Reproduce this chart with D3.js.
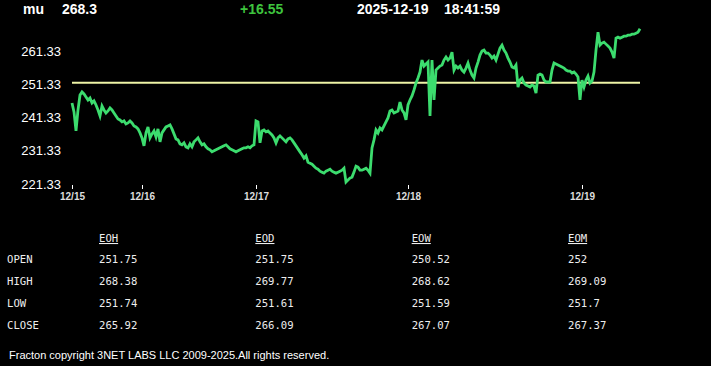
<!DOCTYPE html>
<html>
<head>
<meta charset="utf-8">
<script src="https://cdn.jsdelivr.net/npm/d3@7"></script>
<style>
body { margin:0; background:#000; }
svg { display:block; }
</style>
</head>
<body>
<div id="chart"></div>
<script>
// header
var symbol = "mu", lastPrice = "268.3", change = "+16.55", stamp = "2025-12-19", clock = "18:41:59";
var prevClose = 251.75;

// intraday prices, one array per session
var day1 = [245.7,243.0,237.3,243.6,248.1,249.0,248.4,247.5,246.6,247.2,245.7,246.3,245.1,243.6,241.8,244.8,243.6,242.7,243.3,244.2,
  243.6,242.7,241.8,240.9,240.6,240.0,240.3,239.4,239.7,240.3,239.7,238.8,238.5,237.9,236.7];
var day2 = [235.2,232.8,236.7,238.5,235.2,236.4,237.3,235.5,237.9,234.0,236.7,237.6,238.5,238.8,239.1,237.9,236.4,234.9,234.6,233.4,
  233.1,233.7,232.5,232.2,233.4,232.5,234.0,234.6,235.2,234.0,233.1,233.4,232.5,231.9,231.6,231.0,231.3,231.6,231.9,232.2,
  232.5,232.8,233.1,232.5,231.9,231.6,231.3,231.0,231.3,231.6,231.9,232.2,232.2,232.5,232.2,232.8,233.1];
var day3 = [240.3,240.0,233.7,237.3,237.6,237.0,237.3,236.7,236.1,235.2,233.7,235.2,235.8,235.2,234.6,234.0,234.9,235.2,234.6,233.7,
  232.8,231.9,231.0,230.1,229.1,229.8,227.9,227.6,227.3,226.7,226.1,225.8,225.2,224.9,224.6,225.2,225.5,225.8,225.2,224.9,
  224.6,224.9,225.2,225.5,226.1,221.9,222.5,223.1,223.4,224.9,226.7,226.4,225.5,225.5,225.8,226.1,225.5,224.6,232.2,234.6,
  237.6,236.7,238.2,237.6,238.8,240.0,241.2,243.3,243.6,242.7,243.0,243.3,246.0,243.6,242.7,240.6];
var day4 = [245.1,246.6,247.8,249.6,251.7,253.2,255.0,258.6,256.8,257.4,258.0,241.8,258.6,246.6,255.6,256.2,256.8,257.1,258.6,259.5,
  258.6,259.2,261.0,255.6,256.8,256.2,256.8,255.6,255.0,256.2,257.7,255.6,254.1,253.2,256.2,258.0,260.1,261.3,261.6,260.7,
  260.7,260.1,259.2,259.8,258.6,260.4,262.2,263.1,261.6,260.7,259.2,258.0,256.5,256.2,257.1,250.5,252.6,253.2,251.7,251.1,
  250.8,250.5,251.1,250.8,248.7,254.1,254.4,254.1,252.6,252.0,252.0,252.0,255.6,257.7,257.4,257.1,256.8,256.5,256.2,255.6,
  255.3,255.3,254.7,255.0,254.4,253.5,246.6];
var day5 = [252.6,250.5,252.6,253.8,251.7,252.3,255.0,261.6,267.0,263.1,263.7,264.0,263.4,262.8,262.2,261.0,259.2,265.2,265.5,265.2,
  265.5,265.8,265.8,266.1,266.1,266.4,266.4,266.7,267.0,268.0];
var dayLabels = ["12/15","12/16","12/17","12/18","12/19"];
var yTicks = [221.33, 231.33, 241.33, 251.33, 261.33];

// summary table
var rowLabels = ["OPEN","HIGH","LOW","CLOSE"];
var periods = ["EOH","EOD","EOW","EOM"];
var eoh = ["251.75","268.38","251.74","265.92"];
var eod = ["251.75","269.77","251.61","266.09"];
var eow = ["250.52","268.62","251.59","267.07"];
var eom = ["252","269.09","251.7","267.37"];
var footer = "Fracton copyright 3NET LABS LLC 2009-2025.All rights reserved.";

var W = 711, H = 366;
var svg = d3.select("#chart").append("svg").attr("width", W).attr("height", H)
  .style("background", "#000");

// header line
var hdr = svg.append("g").style("font", "bold 14px 'Liberation Sans', Arial, sans-serif");
hdr.append("text").attr("x", 23).attr("y", 14).attr("fill", "#fff").text(symbol);
hdr.append("text").attr("x", 62).attr("y", 14).attr("fill", "#fff").text(lastPrice);
hdr.append("text").attr("x", 240).attr("y", 14).attr("fill", "#3ec43e").text(change);
hdr.append("text").attr("x", 357).attr("y", 14).attr("fill", "#fff").text(stamp);
hdr.append("text").attr("x", 444).attr("y", 14).attr("fill", "#fff").text(clock);

// join the sessions and remember where each starts
var days = [day1, day2, day3, day4, day5];
var series = [], starts = [];
days.forEach(function(d) {
  starts.push(series.length);
  d.forEach(function(v) { series.push(v); });
});

var x = d3.scaleLinear().domain([0, series.length - 1]).range([72, 640]);
var y = d3.scaleLinear().domain([221.33, 261.33]).range([184, 51]);

// y labels
svg.append("g").selectAll("text").data(yTicks).enter().append("text")
  .attr("x", 61).attr("y", function(d) { return y(d); }).attr("dy", "0.35em")
  .attr("text-anchor", "end").attr("fill", "#fff")
  .style("font", "13px 'Liberation Sans', Arial, sans-serif")
  .text(function(d) { return d.toFixed(2); });

// x axis with day ticks
var xAxis = d3.axisBottom(x).tickValues(starts).tickSize(4).tickPadding(4)
  .tickFormat(function(d, i) { return dayLabels[i]; });
var gx = svg.append("g").attr("transform", "translate(0,185)").call(xAxis);
gx.select(".domain").remove();
gx.selectAll("line").attr("stroke", "#fff");
gx.selectAll("text").attr("fill", "#ddd")
  .style("font", "bold 10px 'Liberation Sans', Arial, sans-serif");

// previous close
svg.append("line")
  .attr("x1", x(0)).attr("x2", x(series.length - 1))
  .attr("y1", y(prevClose)).attr("y2", y(prevClose))
  .attr("stroke", "#eef3a6").attr("stroke-width", 2);

// price line
var line = d3.line().x(function(d, i) { return x(i); }).y(function(d) { return y(d); });
svg.append("path").datum(series)
  .attr("d", line).attr("fill", "none")
  .attr("stroke", "#3cdc6e").attr("stroke-width", 2.8).attr("stroke-linejoin", "miter");

// table
var cols = [eoh, eod, eow, eom];
var tbl = svg.append("g").style("font", "10.6px 'DejaVu Sans Mono', 'Liberation Mono', monospace")
  .attr("fill", "#eee");
var colX = d3.scalePoint().domain(periods).range([99, 568]);
var rowY = d3.scalePoint().domain(rowLabels).range([263, 329]);
tbl.selectAll(".hd").data(periods).enter().append("text").attr("class", "hd")
  .attr("x", function(d) { return colX(d); }).attr("y", 242)
  .style("text-decoration", "underline").text(function(d) { return d; });
tbl.selectAll(".rl").data(rowLabels).enter().append("text").attr("class", "rl")
  .attr("x", 7).attr("y", function(d) { return rowY(d); }).text(function(d) { return d; });
cols.forEach(function(c, j) {
  tbl.selectAll(".c" + j).data(c).enter().append("text").attr("class", "c" + j)
    .attr("x", colX(periods[j])).attr("y", function(d, i) { return rowY(rowLabels[i]); })
    .text(function(d) { return d; });
});

svg.append("text").attr("x", 9).attr("y", 359).attr("fill", "#fff")
  .style("font", "11px 'Liberation Sans', Arial, sans-serif").text(footer);
</script>
</body>
</html>
